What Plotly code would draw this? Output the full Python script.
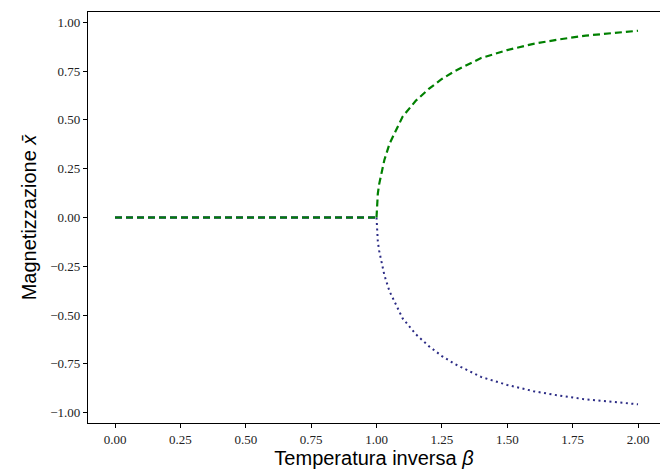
import plotly.graph_objects as go

# Values
beta_zero = [0.0, 1.0]
m_zero = [0.0, 0.0]

beta_branch = [1.0, 1.001, 1.005, 1.01, 1.02, 1.03, 1.05, 1.075, 1.1, 1.15, 1.2,
               1.25, 1.3, 1.4, 1.5, 1.6, 1.7, 1.8, 1.9, 2.0]
m_pos = [0.0, 0.055, 0.122, 0.17, 0.24, 0.295, 0.379, 0.449, 0.517, 0.598, 0.659,
         0.710, 0.751, 0.817, 0.858, 0.890, 0.913, 0.932, 0.946, 0.957]
m_neg = [-v for v in m_pos]

x_ticks = [0.0, 0.25, 0.5, 0.75, 1.0, 1.25, 1.5, 1.75, 2.0]
y_ticks = [-1.0, -0.75, -0.5, -0.25, 0.0, 0.25, 0.5, 0.75, 1.0]

GREEN = "#008000"
NAVY = "#2b2b85"

fig = go.Figure()
# zero branch: navy dashed underneath, green dashed on top
fig.add_trace(go.Scatter(x=beta_zero, y=m_zero, mode="lines",
                         line=dict(color=NAVY, width=2.6, dash="7px,4px"),
                         hoverinfo="skip", showlegend=False))
fig.add_trace(go.Scatter(x=beta_zero, y=m_zero, mode="lines",
                         line=dict(color=GREEN, width=1.8, dash="7px,4px"),
                         showlegend=False))
# negative branch dotted
fig.add_trace(go.Scatter(x=beta_branch, y=m_neg, mode="lines",
                         line=dict(color=NAVY, width=2, dash="2px,3.5px"),
                         showlegend=False))
# positive branch dashed
fig.add_trace(go.Scatter(x=beta_branch, y=m_pos, mode="lines",
                         line=dict(color=GREEN, width=2.2, dash="7px,4px"),
                         showlegend=False))

tickfont = dict(family="Liberation Serif, DejaVu Serif, serif", size=13, color="#222")
titlefont = dict(family="Liberation Sans, Arial, sans-serif", size=20, color="black")
fig.update_layout(
    width=660, height=472,
    margin=dict(l=88, r=0, t=12, b=49),
    paper_bgcolor="white", plot_bgcolor="white",
    xaxis=dict(range=[-0.1033, 2.0841], tickvals=x_ticks, tickformat=".2f",
               showgrid=False, zeroline=False, showline=True, linecolor="black",
               linewidth=1.2, mirror=True, ticks="outside", ticklen=4,
               tickcolor="black", tickfont=tickfont,
               title=dict(text="Temperatura inversa <i>β</i>", font=titlefont,
                          standoff=4)),
    yaxis=dict(range=[-1.053, 1.053], tickvals=y_ticks, tickformat=".2f",
               showgrid=False, zeroline=False, showline=True, linecolor="black",
               linewidth=1.2, mirror=False, ticks="outside", ticklen=4,
               tickcolor="black", tickfont=tickfont,
               title=dict(text="Magnetizzazione <i>x̄</i>", font=titlefont,
                          standoff=8)),
)

fig.write_html("out.html")
